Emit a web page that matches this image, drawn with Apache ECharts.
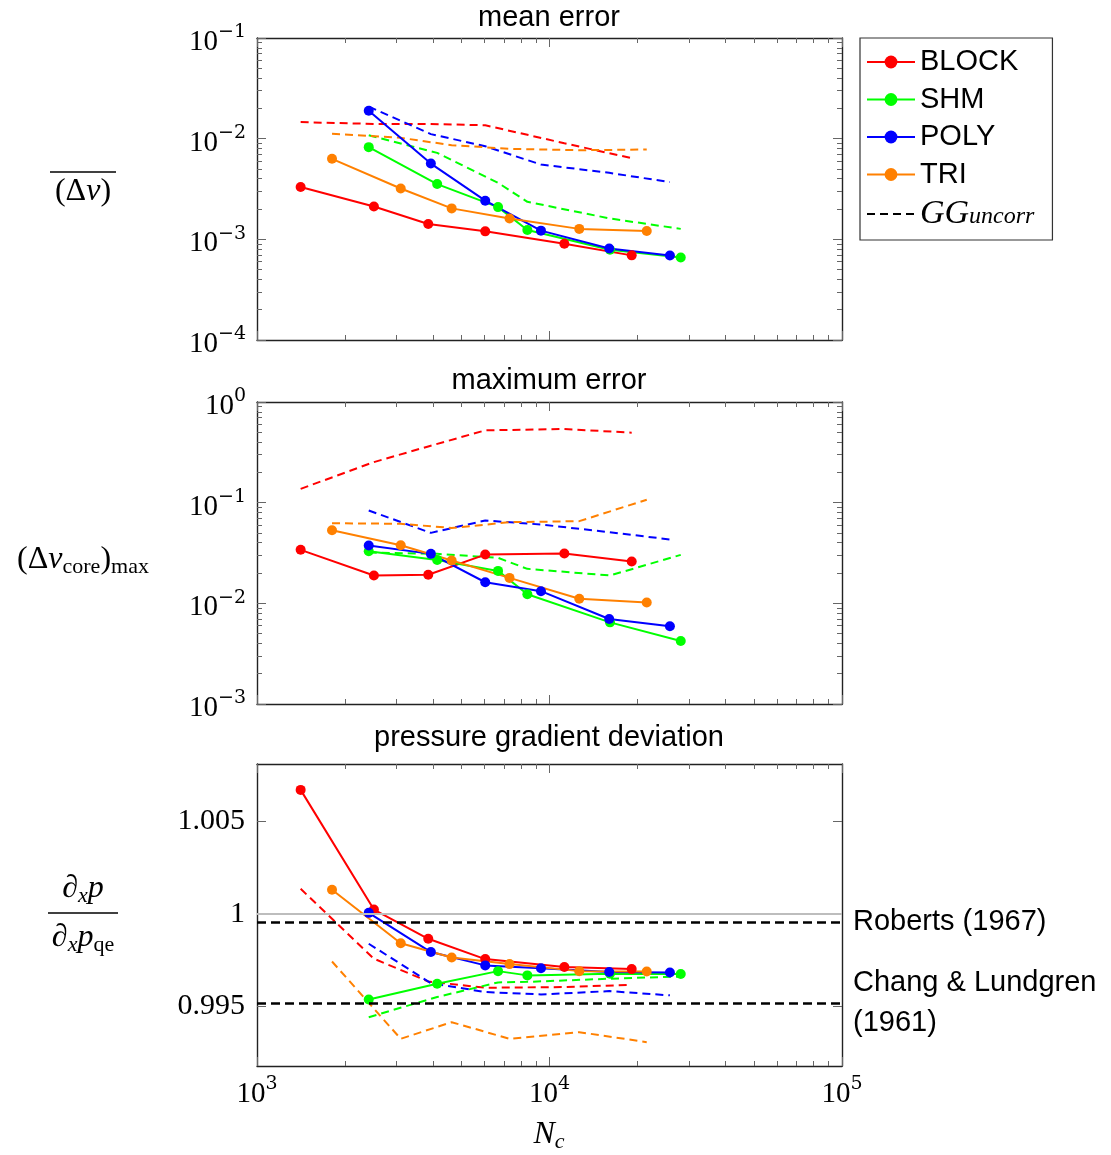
<!DOCTYPE html>
<html>
<head>
<meta charset="utf-8">
<script src="https://cdn.jsdelivr.net/npm/echarts@6/dist/echarts.min.js"></script>
<style>
  html, body { margin: 0; padding: 0; background: #fff; }
  #chart { width: 1111px; height: 1155px; }
</style>
</head>
<body>
<div id="chart"></div>
<script>
// Cell counts N_c of each mesh family
const nBlock = [1410, 2510, 3850, 6030, 11240, 19100];
const nShm   = [2410, 4130, 6670, 8400, 16100, 28100];
const nPoly  = [2410, 3930, 6030, 9350, 16000, 25800];
const nTri   = [1805, 3100, 4630, 7300, 12640, 21500];

// Mean error, corrected gradients (solid) and GG_uncorr (dashed)
const meanBlock = [3.31e-3, 2.12e-3, 1.42e-3, 1.20e-3, 9.05e-4, 6.93e-4];
const meanShm   = [8.24e-3, 3.54e-3, 2.09e-3, 1.24e-3, 7.88e-4, 6.61e-4];
const meanPoly  = [1.89e-2, 5.66e-3, 2.42e-3, 1.22e-3, 8.12e-4, 6.92e-4];
const meanTri   = [6.31e-3, 3.20e-3, 2.03e-3, 1.61e-3, 1.27e-3, 1.21e-3];
const meanBlockGG = [1.46e-2, 1.40e-2, 1.40e-2, 1.36e-2, 9.0e-3, 6.4e-3];
const meanShmGG   = [1.08e-2, 7.23e-3, 3.64e-3, 2.36e-3, 1.61e-3, 1.27e-3];
const meanPolyGG  = [2.08e-2, 1.11e-2, 8.41e-3, 5.53e-3, 4.58e-3, 3.70e-3];
const meanTriGG   = [1.12e-2, 1.02e-2, 8.61e-3, 7.93e-3, 7.68e-3, 7.80e-3];

// Maximum error in the core
const maxBlock = [3.40e-2, 1.89e-2, 1.92e-2, 3.05e-2, 3.12e-2, 2.60e-2];
const maxShm   = [3.29e-2, 2.70e-2, 2.10e-2, 1.23e-2, 6.47e-3, 4.23e-3];
const maxPoly  = [3.75e-2, 3.10e-2, 1.62e-2, 1.32e-2, 6.99e-3, 5.91e-3];
const maxTri   = [5.32e-2, 3.78e-2, 2.66e-2, 1.79e-2, 1.11e-2, 1.02e-2];
const maxBlockGG = [0.137, 0.253, 0.362, 0.523, 0.539, 0.496];
const maxShmGG   = [3.2e-2, 3.10e-2, 2.83e-2, 2.20e-2, 1.89e-2, 3.03e-2];
const maxPolyGG  = [8.36e-2, 5.01e-2, 6.65e-2, 6.07e-2, 5.09e-2, 4.31e-2];
const maxTriGG   = [6.25e-2, 6.17e-2, 5.60e-2, 6.40e-2, 6.55e-2, 1.07e-1];

// Pressure gradient relative to the quasi-exact value
const pgBlock = [1.00671, 1.00024, 0.99866, 0.99756, 0.99713, 0.99702];
const pgShm   = [0.99538, 0.99623, 0.99691, 0.99668, 0.99677, 0.99675];
const pgPoly  = [1.00006, 0.99794, 0.99722, 0.99707, 0.99686, 0.99684];
const pgTri   = [1.00131, 0.99842, 0.99765, 0.99729, 0.99691, 0.99689];
const pgBlockGG = [1.00136, 0.99758, 0.99635, 0.99601, 0.99605, 0.99617];
const pgShmGG   = [0.99442, 0.99551, 0.99630, 0.99633, 0.99650, 0.99662];
const pgPolyGG  = [0.99839, 0.99626, 0.99578, 0.99565, 0.99583, 0.99560];
const pgTriGG   = [0.99743, 0.99325, 0.99415, 0.99325, 0.99361, 0.99307];

// Literature reference values
const refUnity = 1;
const refRoberts = 0.99954;
const refChang = 0.99516;

// Axis ticks
const xMajor = [1e3, 1e4, 1e5];
const yMajorMean = [1e-4, 1e-3, 1e-2, 1e-1];
const yMajorMax = [1e-3, 1e-2, 1e-1, 1];
const yMajorPg = [0.995, 1, 1.005];
const pgRange = [0.99178, 1.00811];

const models = ['BLOCK', 'SHM', 'POLY', 'TRI'];
const modelColors = ['#ff0000', '#00ff00', '#0000ff', '#ff8000'];
const cellCounts = [nBlock, nShm, nPoly, nTri];

const SANS = 'Liberation Sans, Arial, sans-serif';
const SERIF = 'Liberation Serif, DejaVu Serif, serif';
const SERIF_WIDE = 'DejaVu Serif, Liberation Serif, serif';

const panels = [
  { solid: [meanBlock, meanShm, meanPoly, meanTri], gg: [meanBlockGG, meanShmGG, meanPolyGG, meanTriGG] },
  { solid: [maxBlock, maxShm, maxPoly, maxTri], gg: [maxBlockGG, maxShmGG, maxPolyGG, maxTriGG] },
  { solid: [pgBlock, pgShm, pgPoly, pgTri], gg: [pgBlockGG, pgShmGG, pgPolyGG, pgTriGG] }
];

const gridBoxes = [
  { left: 257, top: 38, width: 585, height: 302 },
  { left: 257, top: 402, width: 585, height: 302 },
  { left: 257, top: 764, width: 585, height: 302 }
];

function pow10Label(v) {
  const e = Math.round(Math.log10(v));
  return '{b|10}{e|' + (e < 0 ? '\u2212' + (-e) : String(e)) + '}';
}
const powRich = {
  b: { fontFamily: SERIF, fontSize: 29, lineHeight: 30, padding: [9, 0, 0, 0], color: '#000' },
  e: { fontFamily: SERIF_WIDE, fontSize: 19, lineHeight: 25, verticalAlign: 'top', color: '#000' }
};

const frameLine = { show: true, onZero: false, lineStyle: { color: '#222', width: 1.4 } };
const tickStyle = { color: '#666', width: 1 };

function xAxisDef(gridIndex, position, withLabels) {
  return {
    type: 'log', logBase: 10, gridIndex, position,
    min: 1e3, max: 1e5, splitNumber: 2,
    axisLine: frameLine,
    axisTick: { show: true, inside: true, length: 9, lineStyle: tickStyle, customValues: xMajor },
    minorTick: { show: true, splitNumber: 9, length: 5, lineStyle: tickStyle },
    axisLabel: withLabels
      ? { show: true, margin: 9, customValues: xMajor, formatter: pow10Label, rich: powRich, showMinLabel: true, showMaxLabel: true }
      : { show: false },
    splitLine: { show: false }, minorSplitLine: { show: false }
  };
}

function logYAxisDef(gridIndex, position, lo, hi, major, withLabels) {
  return {
    type: 'log', logBase: 10, gridIndex, position,
    min: lo, max: hi, splitNumber: 3,
    axisLine: frameLine,
    axisTick: { show: true, inside: true, length: 9, lineStyle: tickStyle, customValues: major },
    minorTick: { show: true, splitNumber: 9, length: 5, lineStyle: tickStyle },
    axisLabel: withLabels
      ? { show: true, margin: 11, customValues: major, formatter: pow10Label, rich: powRich, showMinLabel: true, showMaxLabel: true }
      : { show: false },
    splitLine: { show: false }, minorSplitLine: { show: false }
  };
}

function linYAxisDef(gridIndex, position, withLabels) {
  return {
    type: 'value', gridIndex, position,
    min: pgRange[0], max: pgRange[1],
    axisLine: frameLine,
    axisTick: { show: true, inside: true, length: 9, lineStyle: tickStyle, customValues: yMajorPg },
    minorTick: { show: false },
    axisLabel: withLabels
      ? { show: true, margin: 12, customValues: yMajorPg, fontFamily: SERIF, fontSize: 30, color: '#000',
          formatter: v => (Math.abs(v - 1) < 1e-9 ? '1' : v.toFixed(3)) }
      : { show: false },
    splitLine: { show: false }
  };
}

const xAxes = [];
const yAxes = [];
for (let g = 0; g < 3; g++) {
  xAxes.push(xAxisDef(g, 'bottom', g === 2));
  xAxes.push(xAxisDef(g, 'top', false));
}
yAxes.push(logYAxisDef(0, 'left', 1e-4, 1e-1, yMajorMean, true));
yAxes.push(logYAxisDef(0, 'right', 1e-4, 1e-1, yMajorMean, false));
yAxes.push(logYAxisDef(1, 'left', 1e-3, 1, yMajorMax, true));
yAxes.push(logYAxisDef(1, 'right', 1e-3, 1, yMajorMax, false));
yAxes.push(linYAxisDef(2, 'left', true));
yAxes.push(linYAxisDef(2, 'right', false));

const series = [];

// reference levels in the pressure gradient panel
const refLabel = { show: true, position: 'end', distance: 11, fontFamily: SANS, fontSize: 29, color: '#000', lineHeight: 40 };
series.push({
  type: 'line', name: 'refs', xAxisIndex: 4, yAxisIndex: 4, data: [], symbol: 'none',
  markLine: {
    silent: true, symbol: ['none', 'none'], animation: false, precision: 6,
    data: [
      { yAxis: refUnity, lineStyle: { color: '#bdbdbd', width: 2, type: 'solid' }, label: { show: false } },
      { yAxis: refRoberts, lineStyle: { color: '#000', width: 2.5, type: [9, 5] },
        label: Object.assign({}, refLabel, { formatter: 'Roberts (1967)' }) },
      { yAxis: refChang, lineStyle: { color: '#000', width: 2.5, type: [9, 5] },
        label: Object.assign({}, refLabel, { formatter: 'Chang & Lundgren\n(1961)' }) }
    ]
  }
});

panels.forEach((panel, p) => {
  const axisIdx = 2 * p;
  // GG_uncorr results, dashed
  models.forEach((m, k) => {
    series.push({
      type: 'line', name: m + ' GG', xAxisIndex: axisIdx, yAxisIndex: axisIdx,
      data: cellCounts[k].map((n, i) => [n, panel.gg[k][i]]),
      symbol: 'none', silent: true, z: 2,
      lineStyle: { color: modelColors[k], width: 2, type: [8, 5] },
      itemStyle: { color: modelColors[k] }
    });
  });
  // corrected results, solid with markers
  models.forEach((m, k) => {
    series.push({
      type: 'line', name: m, xAxisIndex: axisIdx, yAxisIndex: axisIdx,
      data: cellCounts[k].map((n, i) => [n, panel.solid[k][i]]),
      symbol: 'circle', symbolSize: 10, showSymbol: true, silent: true, z: 3,
      lineStyle: { color: modelColors[k], width: 2 },
      itemStyle: { color: modelColors[k] }
    });
  });
});

// legend entry for the uncorrected Green-Gauss gradient
series.push({
  type: 'line', name: 'GG', xAxisIndex: 0, yAxisIndex: 0, data: [],
  symbol: 'none', lineStyle: { color: '#000', width: 2, type: [8, 5] }, itemStyle: { color: '#000' }
});

const mathRich = {
  n: { fontFamily: SERIF, fontSize: 32, lineHeight: 36, color: '#000' },
  i: { fontFamily: SERIF, fontSize: 32, lineHeight: 36, fontStyle: 'italic', color: '#000' },
  s: { fontFamily: SERIF, fontSize: 22, lineHeight: 20, verticalAlign: 'bottom', color: '#000' },
  si: { fontFamily: SERIF, fontSize: 22, lineHeight: 20, verticalAlign: 'bottom', fontStyle: 'italic', color: '#000' }
};

function titleText(text, y) {
  return { type: 'text', x: 549, y, style: { text, fontFamily: SANS, fontSize: 29, fill: '#000', align: 'center', verticalAlign: 'middle' } };
}
function mathText(text, x, y) {
  return { type: 'text', x, y, style: { text, rich: mathRich, fontFamily: SERIF, fontSize: 32, fill: '#000', align: 'center', verticalAlign: 'middle' } };
}

const graphic = [
  titleText('mean error', 18),
  titleText('maximum error', 381),
  titleText('pressure gradient deviation', 738),
  mathText('{n|(\u0394}{i|v}{n|)}', 83, 192),
  { type: 'line', shape: { x1: 50, y1: 172, x2: 116, y2: 172 }, style: { stroke: '#000', lineWidth: 1.5 } },
  mathText('{n|(\u0394}{i|v}{s|core}{n|)}{s|max}', 83, 560),
  mathText('{n|\u2202}{si|x}{i|p}', 83, 889),
  { type: 'line', shape: { x1: 48, y1: 913, x2: 118, y2: 913 }, style: { stroke: '#000', lineWidth: 1.5 } },
  mathText('{n|\u2202}{si|x}{i|p}{s|qe}', 83, 938),
  mathText('{i|N}{si|c}', 549, 1135)
];

const chart = echarts.init(document.getElementById('chart'), null, { renderer: 'canvas' });
chart.setOption({
  animation: false,
  backgroundColor: '#fff',
  grid: gridBoxes.map(b => Object.assign({ containLabel: false, outerBoundsMode: 'none' }, b)),
  xAxis: xAxes,
  yAxis: yAxes,
  legend: {
    data: ['BLOCK', 'SHM', 'POLY', 'TRI', { name: 'GG', itemStyle: { opacity: 0 } }],
    orient: 'vertical', left: 860, top: 38,
    padding: [9, 18, 9, 6],
    itemWidth: 48, itemHeight: 16, itemGap: 7.5,
    borderColor: '#333', borderWidth: 1.2,
    selectedMode: false,
    textStyle: {
      fontFamily: SANS, fontSize: 29, color: '#000', lineHeight: 30,
      rich: {
        gi: { fontFamily: SERIF, fontSize: 34, fontStyle: 'italic', lineHeight: 30, color: '#000' },
        gs: { fontFamily: SERIF, fontSize: 24, fontStyle: 'italic', lineHeight: 12, verticalAlign: 'bottom', color: '#000' }
      }
    },
    formatter: name => (name === 'GG' ? '{gi|GG}{gs|uncorr}' : name)
  },
  graphic,
  series
});
</script>
</body>
</html>
